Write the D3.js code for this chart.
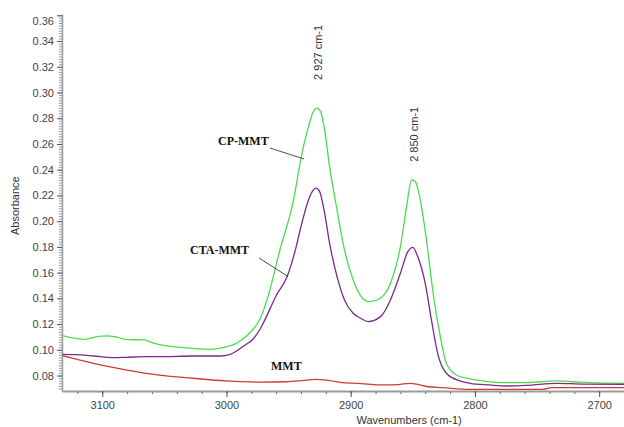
<!DOCTYPE html>
<html>
<head>
<meta charset="utf-8">
<script src="https://cdn.jsdelivr.net/npm/d3@7"></script>
<style>
  body { margin: 0; background: #fff; }
  text { font-family: "Liberation Sans", Arial, sans-serif; }
</style>
</head>
<body>
<div id="chart"></div>
<script>
// spectra (wavenumber cm-1, absorbance)
var cpWave = [3132, 3125, 3115, 3105, 3096, 3088, 3080, 3066, 3060, 3048, 3027, 3013, 3003, 2992, 2981, 2973, 2967, 2957, 2946, 2940, 2934, 2930, 2927, 2924, 2921, 2917, 2911, 2905, 2898, 2892, 2885, 2876, 2868, 2860, 2855, 2851, 2848, 2844, 2839, 2834, 2828, 2823, 2815, 2804, 2796, 2780, 2758, 2748, 2734, 2721, 2707, 2680];
var cpAbs  = [0.1110, 0.1095, 0.1082, 0.1100, 0.1108, 0.1098, 0.1080, 0.1077, 0.1056, 0.1030, 0.1012, 0.1004, 0.1017, 0.1051, 0.1135, 0.1240, 0.1400, 0.1776, 0.2165, 0.2490, 0.2735, 0.2852, 0.2878, 0.2844, 0.2710, 0.2424, 0.2087, 0.1776, 0.1543, 0.1420, 0.1374, 0.1401, 0.1517, 0.1802, 0.2113, 0.2321, 0.2308, 0.2165, 0.1854, 0.1465, 0.1110, 0.0895, 0.0804, 0.0775, 0.0762, 0.0745, 0.0745, 0.0752, 0.0758, 0.0752, 0.0745, 0.0740];

var ctaWave = [3132, 3120, 3107, 3091, 3080, 3064, 3054, 3027, 3005, 2997, 2987, 2978, 2973, 2970, 2960, 2951, 2945, 2940, 2934, 2930, 2928, 2925, 2921, 2917, 2911, 2905, 2898, 2892, 2886, 2876, 2868, 2860, 2854, 2850, 2846, 2840, 2835, 2830, 2823, 2812, 2804, 2788, 2774, 2758, 2734, 2713, 2680];
var ctaAbs  = [0.0965, 0.0962, 0.0952, 0.0939, 0.0942, 0.0947, 0.0947, 0.0952, 0.0952, 0.0965, 0.1024, 0.1090, 0.1160, 0.1215, 0.1420, 0.1574, 0.1760, 0.1958, 0.2165, 0.2243, 0.2256, 0.2230, 0.2062, 0.1829, 0.1569, 0.1388, 0.1284, 0.1245, 0.1219, 0.1258, 0.1388, 0.1595, 0.1763, 0.1797, 0.1724, 0.1517, 0.1232, 0.0973, 0.0818, 0.0758, 0.0740, 0.0727, 0.0719, 0.0724, 0.0740, 0.0734, 0.0732];

var mmtWave = [3132, 3107, 3080, 3054, 3027, 3000, 2973, 2952, 2940, 2928, 2918, 2907, 2895, 2872, 2862, 2852, 2846, 2838, 2826, 2805, 2745, 2738, 2680];
var mmtAbs  = [0.0955, 0.0895, 0.0843, 0.0804, 0.0779, 0.0758, 0.0749, 0.0752, 0.0760, 0.0771, 0.0762, 0.0745, 0.0740, 0.0727, 0.0730, 0.0740, 0.0732, 0.0713, 0.0706, 0.0693, 0.0693, 0.0706, 0.0706];

var seriesNames = ["CP-MMT", "CTA-MMT", "MMT"];
var seriesColors = ["#4cdc4c", "#7a2a88", "#cc3a3a"];

var xTicks = [3100, 3000, 2900, 2800, 2700];
var yTicks = [0.08, 0.10, 0.12, 0.14, 0.16, 0.18, 0.20, 0.22, 0.24, 0.26, 0.28, 0.30, 0.32, 0.34, 0.36];

var peakWaves = [2927, 2850];
var peakLabels = ["2 927 cm-1", "2 850 cm-1"];

var width = 624, height = 427;
var margin = {top: 14, right: 0, bottom: 36, left: 62};

var svg = d3.select("#chart")
    .append("svg")
    .attr("width", width)
    .attr("height", height);

// wavenumbers run right to left
var x = d3.scaleLinear()
    .domain([3132.4, 2680])
    .range([margin.left, width - margin.right]);

var y = d3.scaleLinear()
    .domain([0.068, 0.361])
    .range([height - margin.bottom, margin.top]);

var axisGrey = "#9a9a9a";

// minor ticks first so majors sit on top
var yMinor = d3.range(0.07, 0.3605, 0.002);
svg.append("g")
    .attr("transform", "translate(" + margin.left + ",0)")
    .call(d3.axisLeft(y).tickValues(yMinor).tickSize(3).tickFormat(""))
    .call(function(g) { g.select(".domain").remove(); })
    .selectAll("line").attr("stroke", axisGrey);

var xMinor = d3.range(3120, 2680, -20);
svg.append("g")
    .attr("transform", "translate(0," + (height - margin.bottom) + ")")
    .call(d3.axisBottom(x).tickValues(xMinor).tickSize(3).tickFormat(""))
    .call(function(g) { g.select(".domain").remove(); })
    .selectAll("line").attr("stroke", "#555");

// Y axis
var yAxis = svg.append("g")
    .attr("transform", "translate(" + margin.left + ",0)")
    .call(d3.axisLeft(y).tickValues(yTicks).tickSize(5).tickSizeOuter(0).tickPadding(3)
      .tickFormat(d3.format(".2f")));
yAxis.select(".domain").attr("stroke", axisGrey).attr("stroke-width", 1.5);
yAxis.selectAll(".tick line").attr("stroke", "#555");
yAxis.selectAll(".tick text")
    .attr("fill", "#444")
    .style("font-size", "11px");
// top label is nudged down like in the original
yAxis.selectAll(".tick text").filter(function(d) { return d > 0.355; })
    .attr("dy", "0.85em");

// X axis
var xAxis = svg.append("g")
    .attr("transform", "translate(0," + (height - margin.bottom) + ")")
    .call(d3.axisBottom(x).tickValues(xTicks).tickSize(6).tickSizeOuter(0).tickPadding(4)
      .tickFormat(d3.format("d")));
xAxis.select(".domain").attr("stroke", axisGrey).attr("stroke-width", 2);
xAxis.selectAll(".tick line").attr("stroke", "#555");
xAxis.selectAll(".tick text")
    .attr("fill", "#444")
    .style("font-size", "11px");

// axis titles
svg.append("text")
    .attr("transform", "translate(19," + y(0.212) + ") rotate(-90)")
    .attr("text-anchor", "middle")
    .attr("fill", "#333")
    .style("font-size", "11px")
    .text("Absorbance");

svg.append("text")
    .attr("x", x(2853))
    .attr("y", height - 3)
    .attr("text-anchor", "middle")
    .attr("fill", "#333")
    .style("font-size", "11px")
    .text("Wavenumbers (cm-1)");

// spectra
var line = d3.line()
    .x(function(d) { return x(d[0]); })
    .y(function(d) { return y(d[1]); })
    .curve(d3.curveMonotoneX);

var allSeries = [
  d3.zip(cpWave, cpAbs),
  d3.zip(ctaWave, ctaAbs),
  d3.zip(mmtWave, mmtAbs)
];

svg.selectAll(".spectrum")
    .data(allSeries)
    .enter()
    .append("path")
    .attr("class", "spectrum")
    .attr("d", line)
    .attr("fill", "none")
    .attr("stroke", function(d, i) { return seriesColors[i]; })
    .attr("stroke-width", 1.3);

// peak labels, rotated
svg.selectAll(".peak")
    .data(peakWaves)
    .enter()
    .append("text")
    .attr("class", "peak")
    .attr("transform", function(d, i) {
      var top = i == 0 ? y(0.3098) : y(0.2461);
      return "translate(" + (x(d) + 5) + "," + top + ") rotate(-90)";
    })
    .attr("fill", "#333")
    .style("font-size", "11px")
    .text(function(d, i) { return peakLabels[i]; });

// series names with leader lines
var nameX = [218, 190, 271];
var nameY = [145, 254, 370];
var leaders = [[270, 148, 304, 159], [259, 258, 288, 276.5]];

svg.selectAll(".name")
    .data(seriesNames)
    .enter()
    .append("text")
    .attr("class", "name")
    .attr("x", function(d, i) { return nameX[i]; })
    .attr("y", function(d, i) { return nameY[i]; })
    .attr("fill", "#111")
    .style("font-family", "'Liberation Serif', 'Times New Roman', serif")
    .style("font-weight", "bold")
    .style("font-size", "12px")
    .text(function(d) { return d; });

svg.selectAll(".leader")
    .data(leaders)
    .enter()
    .append("line")
    .attr("class", "leader")
    .attr("x1", function(d) { return d[0]; })
    .attr("y1", function(d) { return d[1]; })
    .attr("x2", function(d) { return d[2]; })
    .attr("y2", function(d) { return d[3]; })
    .attr("stroke", "#222")
    .attr("stroke-width", 0.8);
</script>
</body>
</html>
